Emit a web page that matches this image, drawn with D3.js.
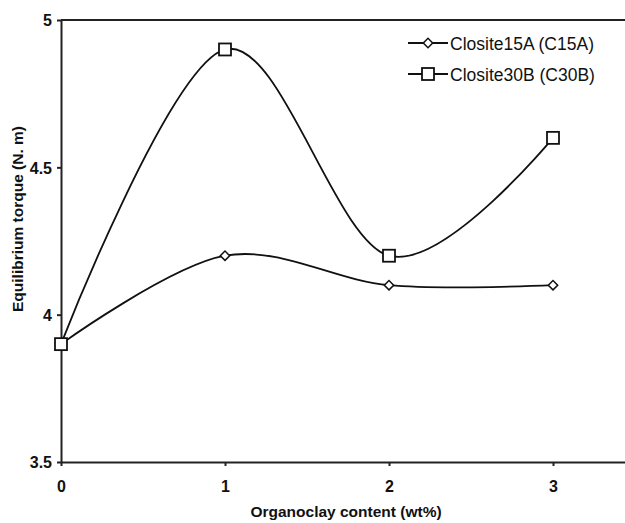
<!DOCTYPE html>
<html>
  <head>
    <meta charset="UTF-8" />
    <script src="https://d3js.org/d3.v7.min.js"></script>
    <style>
      body { margin: 0; background: #fff; }
      text { font-family: "Liberation Sans", Arial, sans-serif; }
    </style>
  </head>
  <body>
    <div id="chart"></div>
    <script>
      // data
      var content = [0, 1, 2, 3];
      var c15a = [3.9, 4.2, 4.1, 4.1];
      var c30b = [3.9, 4.9, 4.2, 4.6];
      var xTicks = [0, 1, 2, 3];
      var yTicks = [3.5, 4, 4.5, 5];
      var seriesNames = ["Closite15A (C15A)", "Closite30B (C30B)"];

      var W = 625, H = 523;
      var margin = { top: 20, left: 61, bottom: 61 };
      var innerH = H - margin.top - margin.bottom;

      var svg = d3.select("#chart").append("svg")
        .attr("width", W).attr("height", H);

      // plot runs past the right edge of the picture (x max 3.5 is cut off)
      var x = d3.scaleLinear().domain([0, 3.5]).range([margin.left, margin.left + 574]);
      var y = d3.scaleLinear().domain([3.5, 5]).range([margin.top + innerH, margin.top]);

      // top border
      svg.append("line")
        .attr("x1", margin.left).attr("x2", W)
        .attr("y1", y(5)).attr("y2", y(5))
        .attr("stroke", "#222").attr("stroke-width", 2);

      var xAxis = svg.append("g")
        .attr("transform", "translate(0," + y(3.5) + ")")
        .call(d3.axisBottom(x).tickValues(xTicks).tickFormat(d3.format("d")).tickSize(4).tickSizeOuter(0));
      var yAxis = svg.append("g")
        .attr("transform", "translate(" + x(0) + ",0)")
        .call(d3.axisLeft(y).tickValues(yTicks).tickFormat(function (d) { return d; }).tickSize(4).tickSizeOuter(0));

      [xAxis, yAxis].forEach(function (g) {
        g.select(".domain").attr("stroke", "#222").attr("stroke-width", 2);
        g.selectAll(".tick line").attr("stroke", "#222").attr("stroke-width", 2);
        g.selectAll(".tick text")
          .attr("fill", "#111")
          .style("font-size", "16px")
          .style("font-weight", "bold")
          .style("font-family", "'Liberation Sans', Arial, sans-serif");
      });
      xAxis.selectAll(".tick text").attr("dy", "1.45em");
      yAxis.selectAll(".tick text").attr("x", -9).attr("dy", "0.36em");

      // axis titles
      svg.append("text")
        .attr("x", 346).attr("y", 517)
        .attr("text-anchor", "middle")
        .style("font-size", "15.5px").style("font-weight", "bold")
        .attr("fill", "#111")
        .text("Organoclay content (wt%)");
      svg.append("text")
        .attr("transform", "translate(23,219) rotate(-90)")
        .attr("text-anchor", "middle")
        .style("font-size", "15.5px").style("font-weight", "bold")
        .attr("fill", "#111")
        .text("Equilibrium torque (N. m)");

      var line = d3.line()
        .x(function (d) { return x(d[0]); })
        .y(function (d) { return y(d[1]); })
        .curve(d3.curveCatmullRom.alpha(0));

      var s15 = content.map(function (c, i) { return [c, c15a[i]]; });
      var s30 = content.map(function (c, i) { return [c, c30b[i]]; });

      [s15, s30].forEach(function (s) {
        svg.append("path")
          .attr("d", line(s))
          .attr("fill", "none")
          .attr("stroke", "#111")
          .attr("stroke-width", 1.8);
      });

      var diamond = d3.symbol().type(d3.symbolSquare).size(44);
      svg.selectAll(".dia").data(s15).enter().append("path")
        .attr("d", diamond)
        .attr("transform", function (d) { return "translate(" + x(d[0]) + "," + y(d[1]) + ") rotate(45)"; })
        .attr("fill", "#fff").attr("stroke", "#111").attr("stroke-width", 1.5);

      svg.selectAll(".sq").data(s30).enter().append("rect")
        .attr("x", function (d) { return x(d[0]) - 6; })
        .attr("y", function (d) { return y(d[1]) - 6; })
        .attr("width", 12).attr("height", 12)
        .attr("fill", "#fff").attr("stroke", "#111").attr("stroke-width", 1.8);

      // legend
      var legend = svg.append("g").attr("transform", "translate(408,43)");
      seriesNames.forEach(function (name, i) {
        var g = legend.append("g").attr("transform", "translate(0," + i * 31 + ")");
        g.append("line").attr("x1", 0).attr("x2", 40).attr("y1", 0).attr("y2", 0)
          .attr("stroke", "#111").attr("stroke-width", 1.8);
        if (i === 0) {
          g.append("path").attr("d", diamond).attr("transform", "translate(20,0) rotate(45)")
            .attr("fill", "#fff").attr("stroke", "#111").attr("stroke-width", 1.5);
        } else {
          g.append("rect").attr("x", 14).attr("y", -6).attr("width", 12).attr("height", 12)
            .attr("fill", "#fff").attr("stroke", "#111").attr("stroke-width", 1.8);
        }
        g.append("text").attr("x", 42).attr("y", 7)
          .style("font-size", "17.5px").attr("fill", "#111")
          .text(name);
      });
    </script>
  </body>
</html>
